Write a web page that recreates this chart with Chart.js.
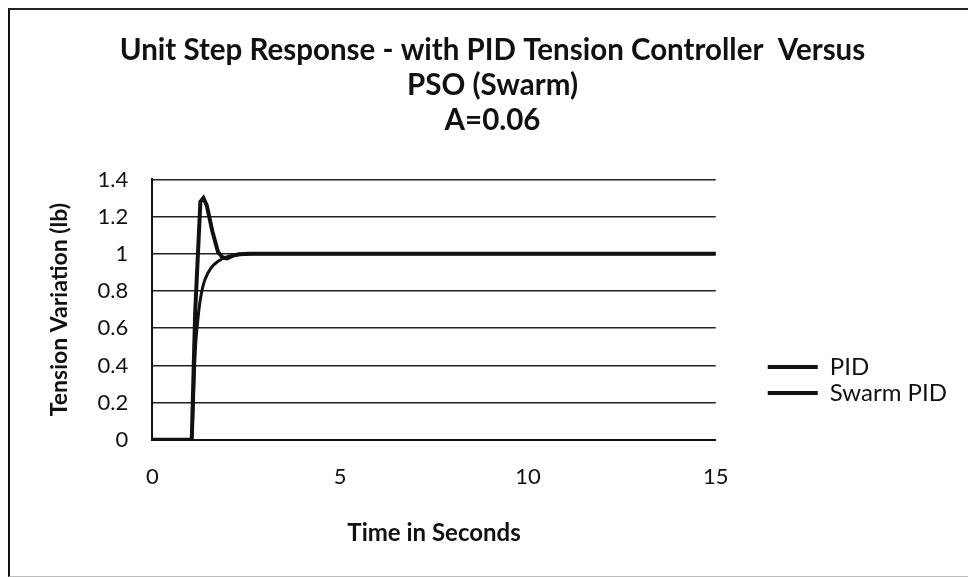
<!DOCTYPE html>
<html>
<head>
<meta charset="utf-8">
<script src="https://cdn.jsdelivr.net/npm/chart.js@4.4.1/dist/chart.umd.min.js"></script>
<style>
  html, body { margin: 0; padding: 0; background: #fff; overflow: hidden; }
  #wrap { position: absolute; left: 0; top: 0; width: 968px; height: 577px; }
  #frame { position: absolute; left: 8px; top: 8px; width: 1000px; height: 566px;
           border-left: 2px solid #111; border-top: 2px solid #222; border-bottom: 1px solid #bbb;
           pointer-events: none; }
</style>
</head>
<body>
<div id="wrap"><canvas id="c" width="968" height="577"></canvas></div>
<div id="frame"></div>
<script>
// ---- data ----
const titleLines = ['Unit Step Response - with PID Tension Controller  Versus', 'PSO (Swarm)', 'A=0.06'];
const seriesNames = ['PID', 'Swarm PID'];
const pidTime  = [0, 1.0, 1.05, 1.14, 1.28, 1.36, 1.45, 1.6, 1.75, 1.87, 1.99, 2.15, 2.3, 2.6, 3, 5, 10, 15];
const pidValue = [0, 0, 0, 0.68, 1.28, 1.30, 1.26, 1.12, 1.01, 0.98, 0.975, 0.99, 0.998, 1.0, 1.0, 1.0, 1.0, 1.0];
const swarmTime  = [0, 1.0, 1.05, 1.15, 1.23, 1.3, 1.4, 1.55, 1.75, 2.0, 2.3, 2.7, 3, 5, 10, 15];
const swarmValue = [0, 0, 0, 0.5, 0.68, 0.78, 0.86, 0.92, 0.96, 0.985, 0.995, 1.0, 1.0, 1.0, 1.0, 1.0];
const xTickLabels = ['0', '5', '10', '15'];
const yTickLabels = ['0', '0.2', '0.4', '0.6', '0.8', '1', '1.2', '1.4'];
const xAxisTitle = 'Time in Seconds';
const yAxisTitle = 'Tension Variation (lb)';

const toPoints = (xs, ys) => xs.map((x, i) => ({ x: x, y: ys[i] }));
const FONT = 'Lato, "Open Sans", sans-serif';

// nudges the title and legend boxes after layout (Excel-like placement)
const nudge = {
  id: 'nudge',
  afterLayout(chart) {
    const t = chart.titleBlock, l = chart.legend;
    if (t) { t.left += 18; t.right += 18; }
    if (l) { l.left += 50; l.right += 50; l.top += 95; l.bottom += 95; }
  }
};

new Chart(document.getElementById('c'), {
  type: 'line',
  data: {
    datasets: [
      { label: seriesNames[0], data: toPoints(pidTime, pidValue), borderColor: '#111', backgroundColor: '#111',
        borderWidth: 4, pointRadius: 0, tension: 0, fill: false },
      { label: seriesNames[1], data: toPoints(swarmTime, swarmValue), borderColor: '#111', backgroundColor: '#111',
        borderWidth: 3, pointRadius: 0, tension: 0.3, fill: false }
    ]
  },
  plugins: [nudge],
  options: {
    responsive: false,
    animation: false,
    layout: { padding: { left: 42, right: 61, top: 22, bottom: 29 } },
    plugins: {
      title: { display: true, text: titleLines, color: '#111',
        font: { family: FONT, size: 29.5, weight: 'bold', lineHeight: 1.18 }, padding: { top: 11, bottom: 42 } },
      legend: { position: 'right', align: 'center',
        labels: { color: '#111', font: { family: FONT, size: 24 }, boxWidth: 50, boxHeight: 4, padding: 2,
          generateLabels: (chart) => Chart.defaults.plugins.legend.labels.generateLabels(chart)
            .map(item => Object.assign(item, { lineWidth: 0, fillStyle: '#111' })) } },
      tooltip: { enabled: false }
    },
    scales: {
      x: { type: 'linear', min: 0, max: 15,
        ticks: { stepSize: 5, color: '#111', font: { family: FONT, size: 22 }, padding: 24,
          callback: (v) => xTickLabels[xTickLabels.indexOf(String(v))] ?? '' },
        grid: { display: false, drawTicks: false },
        border: { display: true, color: '#111', width: 2 },
        title: { display: true, text: xAxisTitle, color: '#111', font: { family: FONT, size: 24, weight: 'bold' }, padding: { top: 5, bottom: 0 } } },
      y: { min: 0, max: 1.4,
        ticks: { stepSize: 0.2, color: '#111', font: { family: FONT, size: 22 }, padding: 24,
          callback: (v) => yTickLabels[Math.round(v / 0.2)] },
        grid: { color: '#222', lineWidth: 1.6, drawTicks: false },
        border: { display: true, color: '#111', width: 2 },
        title: { display: true, text: yAxisTitle, color: '#111', font: { family: FONT, size: 23, weight: 'bold' }, padding: { top: 4, bottom: 0 } } }
    }
  }
});
</script>
</body>
</html>
